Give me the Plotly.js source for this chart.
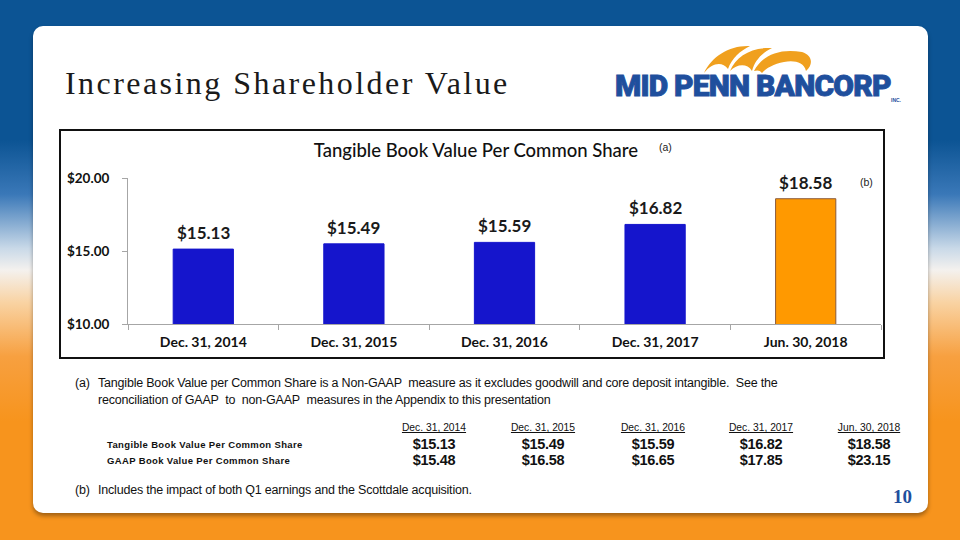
<!DOCTYPE html>
<html>
<head>
<meta charset="utf-8">
<script src="https://cdn.plot.ly/plotly-3.0.1.min.js"></script>
<style>
  html, body { margin:0; padding:0; }
  body { width:960px; height:540px; position:relative; overflow:hidden;
    background: linear-gradient(to bottom, #0c5494 0%, #0c5494 26%, #3a78b8 36%, #c9d9e8 46%, #f4f1ee 50%, #f9d3a3 56%, #f7a040 66%, #f7941d 78%, #f7941d 100%); }
  #panel { position:absolute; left:33px; top:26px; width:895px; height:487px; background:#fff; border-radius:10px;
    box-shadow: 0 3px 4px rgba(0,0,0,0.35); }
  #title { position:absolute; left:65px; top:65px; font-family:"Liberation Serif","DejaVu Serif",serif; font-size:32px; letter-spacing:2.45px; color:#1a1a1a; white-space:nowrap; }
  #logo { position:absolute; left:612px; top:42px; width:292px; height:60px; }
  #logotext { position:absolute; left:615px; top:68px; font-family:"Roboto","Inter",sans-serif; font-weight:900; font-size:30px; letter-spacing:-0.8px; color:#1f4f9d; white-space:nowrap; -webkit-text-stroke:0.9px #1f4f9d; }
  #inc { position:absolute; left:891px; top:97px; font-family:"Liberation Sans",sans-serif; font-size:5px; font-weight:bold; color:#1f4f9d; }
  #chartbox { position:absolute; left:59px; top:129px; width:822px; height:226px; border:2px solid #111; background:#fff; }
  #chart { width:822px; height:226px; }
  .fn { position:absolute; font-family:"Liberation Sans",Arial,sans-serif; font-size:12.5px; color:#111; letter-spacing:-0.2px; white-space:nowrap; line-height:17px; }
  .hdr { position:absolute; top:422px; font-family:"Liberation Sans",Arial,sans-serif; font-size:10.3px; color:#111; text-decoration:underline; white-space:nowrap; transform:translateX(-50%); }
  .val { position:absolute; font-family:"Liberation Sans",Arial,sans-serif; font-size:14.5px; font-weight:bold; color:#111; white-space:nowrap; transform:translateX(-50%); letter-spacing:-0.3px; }
  .rowlab { position:absolute; left:107px; font-family:"Liberation Sans",Arial,sans-serif; font-size:9.5px; font-weight:bold; color:#111; letter-spacing:0.35px; white-space:nowrap; }
  #pg { position:absolute; left:893px; top:486px; font-family:"Liberation Serif",serif; font-weight:bold; font-size:19px; color:#1f4f9d; }
</style>
</head>
<body>
<div id="panel"></div>
<div id="title">Increasing Shareholder Value</div>
<svg id="logo" viewBox="0 0 292 60">
  <path d="M 92 31 C 100 14, 118 3, 138 4 C 128 9, 120 16, 116 27 C 110 19, 100 21, 92 31 Z" fill="#f0a01e"/>
  <path d="M 118 29 C 124 14, 140 5, 160 6 C 150 11, 143 18, 140 29 C 135 21, 125 22, 118 29 Z" fill="#f0a01e"/>
  <path d="M 142 29 C 150 13, 168 6, 190 10 C 200 13, 202 22, 194 29 C 192 20, 182 18, 172 20 C 162 22, 154 26, 150 31 C 148 28, 145 28, 142 29 Z" fill="#f0a01e"/>
</svg>
<div id="logotext">MID PENN BANCORP</div>
<div id="inc">INC.</div>
<div id="chartbox"><div id="chart"></div></div>

<div class="fn" style="left:75px; top:375px;">(a)</div>
<div class="fn" style="left:98px; top:375px;">Tangible Book Value per Common Share is a Non-GAAP&nbsp; measure as it excludes goodwill and core deposit intangible.&nbsp; See the<br>reconciliation of GAAP&nbsp; to&nbsp; non-GAAP&nbsp; measures in the Appendix to this presentation</div>

<div id="tbl"></div>

<div class="fn" style="left:75px; top:482px;">(b)</div>
<div class="fn" style="left:98px; top:482px;">Includes the impact of both Q1 earnings and the Scottdale acquisition.</div>
<div id="pg">10</div>

<script>
// ---- data ----
var categories = ["Dec. 31, 2014", "Dec. 31, 2015", "Dec. 31, 2016", "Dec. 31, 2017", "Jun. 30, 2018"];
var tangibleBV = [15.13, 15.49, 15.59, 16.82, 18.58];
var gaapBV = [15.48, 16.58, 16.65, 17.85, 23.15];
var yTickVals = [10, 15, 20];
var yTickText = ["$10.00", "$15.00", "$20.00"];
var rowLabels = ["Tangible Book Value Per Common Share", "GAAP Book Value Per Common Share"];
var chartTitle = "Tangible Book Value Per Common Share";

// ---- table (HTML) ----
var colCenters = [434, 543, 653, 761, 869];
var tbl = document.getElementById('tbl');
var html = '';
categories.forEach(function(c, i){
  html += '<div class="hdr" style="left:' + colCenters[i] + 'px">' + c + '</div>';
  html += '<div class="val" style="left:' + colCenters[i] + 'px; top:436px">$' + tangibleBV[i].toFixed(2) + '</div>';
  html += '<div class="val" style="left:' + colCenters[i] + 'px; top:452px">$' + gaapBV[i].toFixed(2) + '</div>';
});
html += '<div class="rowlab" style="top:439px">' + rowLabels[0] + '</div>';
html += '<div class="rowlab" style="top:455px">' + rowLabels[1] + '</div>';
tbl.innerHTML = html;

// ---- chart ----
var colors = categories.map(function(c, i){ return i === categories.length - 1 ? '#ff9900' : '#1515cc'; });
var lineColors = categories.map(function(c, i){ return i === categories.length - 1 ? '#8a5a3a' : '#1515cc'; });

var trace = {
  type: 'bar',
  x: categories,
  y: tangibleBV,
  marker: { color: colors, line: { color: lineColors, width: 1 } },
  hoverinfo: 'none'
};

var labelFont = { family: 'Lato, "Open Sans", sans-serif', size: 17, color: '#1a1a1a', weight: 'bold' };
var annotations = categories.map(function(c, i){
  return { x: c, y: tangibleBV[i], xref: 'x', yref: 'y', text: '$' + tangibleBV[i].toFixed(2),
    showarrow: false, yanchor: 'bottom', yshift: 4, font: labelFont };
});
annotations.push({ text: '(a)', xref: 'paper', yref: 'paper', x: 0.703, y: 1.212, xanchor: 'left', yanchor: 'middle', showarrow: false,
  font: { family: 'Liberation Sans, Arial, sans-serif', size: 10.5, color: '#222' } });
annotations.push({ text: '(b)', xref: 'paper', yref: 'paper', x: 0.969, y: 0.972, xanchor: 'left', yanchor: 'middle', showarrow: false,
  font: { family: 'Liberation Sans, Arial, sans-serif', size: 10.5, color: '#222' } });

var layout = {
  width: 822, height: 226,
  margin: { l: 67, r: 2, t: 47, b: 33 },
  paper_bgcolor: '#ffffff', plot_bgcolor: '#ffffff',
  showlegend: false,
  bargap: 0.6,
  title: {
    text: chartTitle,
    font: { family: 'Lato, "Open Sans", sans-serif', size: 18.5, color: '#111', weight: 500 },
    xref: 'paper', x: 0.462, xanchor: 'center',
    yref: 'container', y: 0.915, yanchor: 'middle'
  },
  xaxis: {
    type: 'category',
    showline: true, linecolor: '#a6a6a6', linewidth: 1,
    ticks: 'outside', tickson: 'boundaries', ticklen: 5, tickcolor: '#a6a6a6',
    ticklabelstandoff: 5,
    tickfont: { family: 'Lato, "Open Sans", sans-serif', size: 14, color: '#111', weight: 'bold' },
    showgrid: false, zeroline: false, fixedrange: true
  },
  yaxis: {
    range: [10, 20],
    tickvals: yTickVals, ticktext: yTickText,
    showline: true, linecolor: '#a6a6a6', linewidth: 1,
    ticks: 'outside', ticklen: 5, tickcolor: '#a6a6a6',
    ticklabelstandoff: 10,
    tickfont: { family: 'Lato, "Open Sans", sans-serif', size: 13.5, color: '#111', weight: 'bold' },
    showgrid: false, zeroline: false, fixedrange: true
  },
  annotations: annotations,
  font: { family: 'Lato, sans-serif' }
};
Plotly.newPlot('chart', [trace], layout, { staticPlot: true, displayModeBar: false });
</script>
</body>
</html>
